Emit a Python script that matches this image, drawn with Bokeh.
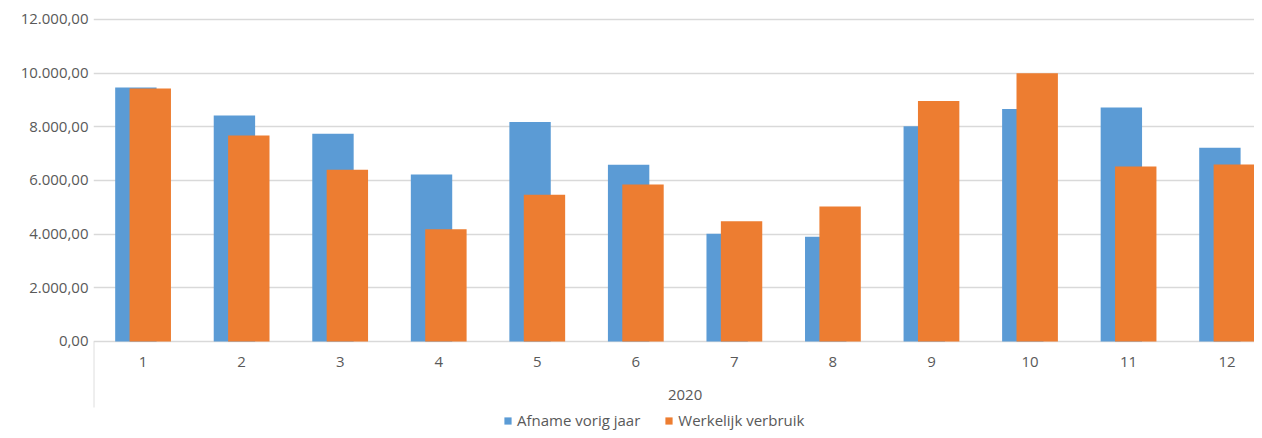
from bokeh.plotting import figure
from bokeh.models import (Range1d, FixedTicker, CustomJSTickFormatter, Legend, LegendItem,
                          ColumnDataSource)
from bokeh.core.properties import value
from bokeh.embed import file_html
from bokeh.resources import INLINE

# ---- data ----
months = [1, 2, 3, 4, 5, 6, 7, 8, 9, 10, 11, 12]
month_labels = ["1", "2", "3", "4", "5", "6", "7", "8", "9", "10", "11", "12"]
afname_vorig_jaar = [9470, 8420, 7740, 6220, 8180, 6590, 4020, 3900, 8020, 8660, 8720, 7220]
werkelijk_verbruik = [9430, 7680, 6400, 4180, 5470, 5850, 4480, 5030, 8960, 10000, 6520, 6600]
year_label = "2020"
y_ticks = [0, 2000, 4000, 6000, 8000, 10000, 12000]
series_names = ["Afname vorig jaar", "Werkelijk verbruik"]

BLUE = "#5B9BD5"
ORANGE = "#ED7D31"
TXT = "#595959"
GRID = "#d9d9d9"
FONT = "Open Sans"

p = figure(width=1254, height=430, output_backend="svg", toolbar_location=None,
           x_range=Range1d(0.497, 12.278), y_range=Range1d(-3317, 12708),
           min_border_left=93, min_border_right=0, min_border_top=0, min_border_bottom=0,
           frame_width=1161, frame_height=430)
p.outline_line_color = None
p.background_fill_color = "white"
p.border_fill_color = "white"

# axes
p.xaxis.visible = False
yax = p.yaxis[0]
yax.ticker = FixedTicker(ticks=y_ticks)
yax.formatter = CustomJSTickFormatter(code="""
    const s = tick.toFixed(2).split('.');
    const i = s[0].replace(/\\B(?=(\\d{3})+(?!\\d))/g, '.');
    return i + ',' + s[1];
""")
yax.axis_line_color = None
yax.major_tick_line_color = None
yax.minor_tick_line_color = None
yax.major_tick_out = 0
yax.major_tick_in = 0
yax.major_label_standoff = 5
yax.major_label_text_font = FONT
yax.major_label_text_font_size = "15px"
yax.major_label_text_color = TXT

p.xgrid.grid_line_color = None
p.ygrid.grid_line_color = GRID
p.ygrid.grid_line_width = 1.3
p.ygrid.ticker = FixedTicker(ticks=y_ticks)

# bars
bar_w = 0.42
off = 0.073
src = ColumnDataSource(dict(
    xb=[m - off for m in months], xo=[m + off for m in months],
    a=afname_vorig_jaar, w=werkelijk_verbruik))
rb = p.vbar(x="xb", top="a", bottom=0, width=bar_w, source=src,
            fill_color=BLUE, line_color=None)
ro = p.vbar(x="xo", top="w", bottom=0, width=bar_w, source=src,
            fill_color=ORANGE, line_color=None)

# category axis: tick labels, year label and left divider line
p.text(x=months, y=[-780] * len(months), text=month_labels,
       text_font=value(FONT), text_font_size="15px", text_color=TXT,
       text_align="center", text_baseline="middle")
p.text(x=[(months[0] + months[-1]) / 2], y=[-2010], text=[year_label],
       text_font=value(FONT), text_font_size="15px", text_color=TXT,
       text_align="center", text_baseline="middle")
p.segment(x0=[months[0] - 0.5], y0=[0], x1=[months[0] - 0.5], y1=[-2460],
          line_color=GRID, line_width=1.3)

legend = Legend(items=[LegendItem(label=series_names[0], renderers=[rb]),
                       LegendItem(label=series_names[1], renderers=[ro])],
                orientation="horizontal", location=(410, 0))
legend.glyph_width = 9
legend.glyph_height = 9
legend.label_standoff = 5
legend.spacing = 24
legend.padding = 0
legend.margin = 0
legend.border_line_color = None
legend.background_fill_alpha = 0
legend.label_text_font = FONT
legend.label_text_font_size = "15px"
legend.label_text_color = TXT
legend.label_height = 14
p.add_layout(legend)

open("out.html", "w").write(file_html(p, INLINE))
